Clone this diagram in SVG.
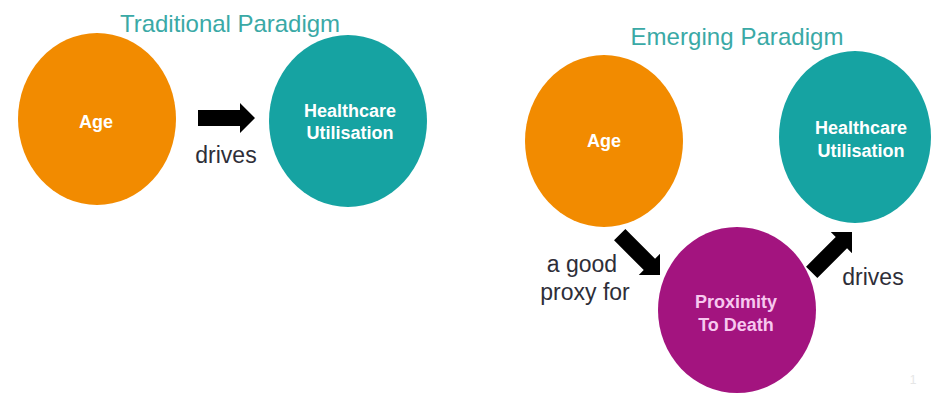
<svg xmlns="http://www.w3.org/2000/svg" width="932" height="393" viewBox="0 0 932 393">
<defs>
<style>
.title{font-family:"Liberation Sans",Arial,sans-serif;font-size:24px;fill:#3aa9a6;text-anchor:middle}
.lbl{font-family:"Liberation Sans",Arial,sans-serif;font-size:18px;font-weight:bold;fill:#ffffff;text-anchor:middle}
.plbl{font-family:"Liberation Sans",Arial,sans-serif;font-size:18px;font-weight:bold;fill:#f7c8ef;text-anchor:middle}
.edge{font-family:"Liberation Sans",Arial,sans-serif;font-size:23px;fill:#2e2e38;text-anchor:middle}
.orange{fill:#f28b00}
.teal{fill:#16a3a2}
.purple{fill:#a3147f}
</style>
<path id="blk" d="M-57,-8 L-15,-8 L-15,-15 L0,0 L-15,15 L-15,8 L-57,8 Z" fill="#000000"/>
</defs>
<rect width="932" height="393" fill="#ffffff"/>
<text class="title" x="230" y="32" textLength="220">Traditional Paradigm</text>
<text class="title" x="737" y="45" textLength="213">Emerging Paradigm</text>
<g id="trad-age">
<ellipse class="orange" cx="97" cy="119" rx="79" ry="86"/>
<text class="lbl" x="96" y="128">Age</text>
</g>
<g id="trad-hc">
<ellipse class="teal" cx="348" cy="121" rx="79" ry="86"/>
<text class="lbl" x="350" y="117">Healthcare</text>
<text class="lbl" x="350" y="139">Utilisation</text>
</g>
<g id="em-age">
<ellipse class="orange" cx="604" cy="141" rx="79" ry="86"/>
<text class="lbl" x="604" y="147">Age</text>
</g>
<g id="em-hc">
<ellipse class="teal" cx="855" cy="137" rx="76" ry="86"/>
<text class="lbl" x="861" y="134">Healthcare</text>
<text class="lbl" x="861" y="157">Utilisation</text>
</g>
<g id="em-ptd">
<ellipse class="purple" cx="737" cy="310" rx="79" ry="83"/>
<text class="plbl" x="736" y="308">Proximity</text>
<text class="plbl" x="736" y="331">To Death</text>
</g>
<g id="connectors">
<use href="#blk" transform="translate(255,118)"/>
<text class="edge" x="226" y="163">drives</text>
<use href="#blk" transform="translate(660,275) rotate(45)"/>
<text class="edge" x="582" y="272">a good</text>
<text class="edge" x="585" y="300">proxy for</text>
<use href="#blk" transform="translate(852,232) rotate(-45)"/>
<text class="edge" x="873" y="285">drives</text>
</g>
<text x="913" y="384" font-family="Liberation Sans,Arial,sans-serif" font-size="12" fill="#e6e6e6" text-anchor="middle">1</text>
</svg>
